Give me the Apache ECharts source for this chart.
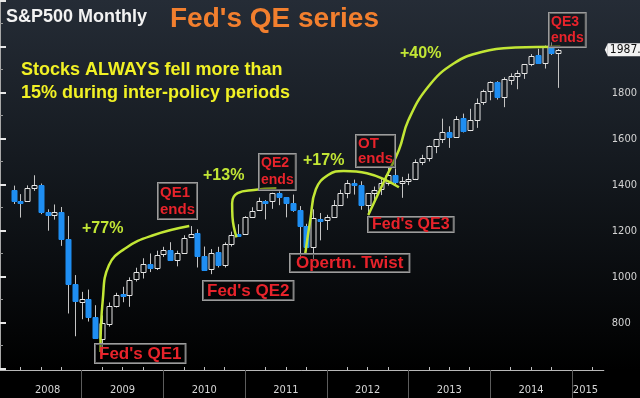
<!DOCTYPE html>
<html>
<head>
<meta charset="utf-8">
<script src="https://cdn.jsdelivr.net/npm/echarts@6/dist/echarts.min.js"></script>
<style>
  html, body { margin: 0; padding: 0; background: #000; }
  #main { width: 640px; height: 398px; }
</style>
</head>
<body>
<div id="main"></div>
<script>
// monthly S&P500 bars, Feb 2008 .. Oct 2014 (x = months since start of 2008, bar drawn at month end)
var firstMonth = 2;
var openV = [1378, 1330, 1327, 1386, 1400, 1282, 1267, 1283, 1164, 968, 889,
  903, 825, 730, 794, 872, 923, 920, 990, 1020, 1055, 1037, 1099,
  1116, 1074, 1105, 1171, 1188, 1088, 1032, 1108, 1050, 1143, 1185, 1186,
  1258, 1289, 1329, 1329, 1365, 1345, 1320, 1292, 1219, 1131, 1251, 1247,
  1258, 1313, 1366, 1408, 1398, 1310, 1362, 1380, 1407, 1440, 1412, 1417,
  1426, 1498, 1515, 1569, 1597, 1631, 1609, 1690, 1636, 1682, 1758, 1806,
  1846, 1783, 1857, 1873, 1885, 1924, 1962, 1930, 2004, 1971];
var closeV = [1330, 1323, 1386, 1400, 1280, 1267, 1283, 1166, 969, 896, 903,
  826, 735, 798, 873, 919, 919, 987, 1021, 1057, 1036, 1096, 1115,
  1074, 1104, 1169, 1187, 1089, 1031, 1102, 1049, 1141, 1183, 1181, 1258,
  1286, 1327, 1326, 1364, 1345, 1321, 1292, 1219, 1131, 1253, 1247, 1258,
  1312, 1366, 1408, 1398, 1310, 1362, 1379, 1407, 1441, 1412, 1416, 1426,
  1498, 1515, 1569, 1598, 1631, 1606, 1686, 1633, 1682, 1757, 1806, 1848,
  1783, 1859, 1872, 1884, 1924, 1960, 1931, 2003, 1972, 1987];
var lowV = [1316, 1257, 1325, 1373, 1272, 1200, 1248, 1134, 840, 741, 815,
  805, 735, 667, 783, 866, 889, 869, 979, 992, 1020, 1029, 1086,
  1071, 1045, 1101, 1170, 1040, 1029, 1011, 1040, 1040, 1131, 1173, 1186,
  1257, 1289, 1249, 1295, 1311, 1258, 1282, 1075, 1114, 1075, 1158, 1203,
  1258, 1312, 1341, 1357, 1291, 1267, 1325, 1355, 1396, 1403, 1343, 1398,
  1426, 1485, 1501, 1537, 1581, 1560, 1605, 1627, 1633, 1647, 1747, 1767,
  1770, 1737, 1834, 1815, 1860, 1915, 1930, 1905, 1964, 1821];
var highV = [1396, 1359, 1397, 1441, 1405, 1293, 1314, 1303, 1264, 1007, 934,
  944, 876, 832, 888, 930, 956, 997, 1039, 1080, 1101, 1113, 1130,
  1150, 1113, 1180, 1220, 1206, 1131, 1120, 1130, 1149, 1196, 1228, 1263,
  1302, 1344, 1333, 1365, 1371, 1346, 1357, 1307, 1230, 1293, 1277, 1269,
  1333, 1378, 1420, 1422, 1415, 1364, 1392, 1426, 1475, 1471, 1434, 1448,
  1510, 1530, 1570, 1598, 1687, 1654, 1698, 1709, 1730, 1775, 1813, 1849,
  1850, 1867, 1884, 1897, 1924, 1968, 1991, 2005, 2019, 1990];

// axis labels
var yearLabels = ['2008', '2009', '2010', '2011', '2012', '2013', '2014', '2015'];
var yearLabelAt = [7, 18, 30, 42, 54, 66, 78, 86];
var yearBreaks = [12, 24, 36, 48, 60, 72, 84];
var priceLabels = [800, 1000, 1200, 1400, 1600, 1800];

// hand drawn annotation curves [month, price]
var qe1Curve = [[14.75, 673], [15.1, 900], [16.0, 1050], [18.5, 1125], [22.5, 1180], [27.8, 1220]];
var qe2Curve = [[34.75, 1171], [34.15, 1260], [34.1, 1320], [34.9, 1363], [37.3, 1377], [40.6, 1384]];
var otCurve = [[44.85, 1102], [45.6, 1250], [46.4, 1380], [48.2, 1442], [50.5, 1460], [53.9, 1450], [58.6, 1389]];
var qe3Curve = [[54.1, 1268], [56.5, 1420], [58.6, 1551], [60.0, 1681], [62.9, 1826], [66.7, 1928], [70.9, 1978], [75.7, 1996], [82.3, 2000]];

var candles = [];
for (var i = 0; i < openV.length; i++) {
  candles.push([firstMonth + i, openV[i], closeV[i], lowV[i], highV[i]]);
}
var lastClose = closeV[closeV.length - 1];

var FONT = '"Liberation Sans", Arial, sans-serif';
var AXISFONT = '"DejaVu Sans Condensed", "Liberation Sans Narrow", sans-serif';
var GREEN = '#c2e635';
var RED = '#e8232b';

function renderCandle(params, api) {
  var x = api.value(0), o = api.value(1), c = api.value(2), l = api.value(3), h = api.value(4);
  var pO = api.coord([x, o]), pC = api.coord([x, c]);
  var pL = api.coord([x, l]), pH = api.coord([x, h]);
  var w = Math.round(api.size([1, 0])[0] * 0.72);
  var cx = Math.round(pO[0]) + 0.5;
  var top = Math.round(Math.min(pO[1], pC[1])) + 0.5;
  var bot = Math.round(Math.max(pO[1], pC[1])) + 0.5;
  if (bot - top < 2) bot = top + 2;
  var up = c >= o;
  return {
    type: 'group',
    children: [
      { type: 'line', shape: { x1: cx, y1: pH[1], x2: cx, y2: top }, style: { stroke: '#c4c4c4', lineWidth: 1 } },
      { type: 'line', shape: { x1: cx, y1: bot, x2: cx, y2: pL[1] }, style: { stroke: '#c4c4c4', lineWidth: 1 } },
      {
        type: 'rect',
        shape: { x: cx - w / 2, y: top, width: w, height: bot - top },
        style: up ? { fill: 'rgba(0,0,0,0.25)', stroke: '#e4e4e4', lineWidth: 1 }
                  : { fill: '#1f8ef2', stroke: '#1f8ef2', lineWidth: 1 }
      }
    ]
  };
}

function curveSeries(pts) {
  return {
    type: 'line', data: pts, smooth: 0.45, showSymbol: false, silent: true,
    lineStyle: { color: GREEN, width: 2.5 }, z: 5
  };
}

function box(text, left, top, size, lh, pad) {
  return {
    type: 'text', left: left, top: top, z: 100,
    style: {
      text: text, font: 'bold ' + size + 'px ' + FONT, fill: RED,
      lineHeight: lh, backgroundColor: 'rgba(0,0,0,0.35)',
      borderColor: '#9c9c9c', borderWidth: 1, padding: pad
    }
  };
}

function plain(text, left, top, size, color) {
  return {
    type: 'text', left: left, top: top, z: 100,
    style: { text: text, font: 'bold ' + size + 'px ' + FONT, fill: color }
  };
}

var chart = echarts.init(document.getElementById('main'));
var option = {
  animation: false,
  backgroundColor: new echarts.graphic.LinearGradient(0, 0, 0, 1, [
    { offset: 0, color: '#252c36' },
    { offset: 0.4, color: '#151a20' },
    { offset: 0.75, color: '#07090b' },
    { offset: 0.93, color: '#000000' },
    { offset: 1, color: '#000000' }
  ]),
  grid: { left: -12, right: 28.3, top: 0, bottom: 28, containLabel: false },
  xAxis: [{
    type: 'value', min: 0, max: 88.7,
    axisLine: { show: true, lineStyle: { color: '#b8b8b8', width: 1 } },
    axisTick: { show: true, customValues: yearBreaks, length: 28, lineStyle: { color: '#5c5c5c' } },
    axisLabel: { show: false },
    splitLine: { show: false }
  }, {
    type: 'value', min: 0, max: 88.7, position: 'bottom', offset: 0,
    axisLine: { show: false },
    axisTick: {
      show: true, inside: true, length: 3, lineStyle: { color: '#bdbdbd' },
      customValues: [3, 6, 9, 15, 18, 21, 27, 30, 33, 39, 42, 45, 51, 54, 57, 63, 66, 69, 75, 78, 81, 87]
    },
    axisLabel: { show: false },
    splitLine: { show: false }
  }, {
    type: 'value', min: 0, max: 88.7, position: 'bottom', offset: 0,
    axisLine: { show: false },
    axisTick: { show: false },
    axisLabel: {
      show: true, customValues: yearLabelAt, margin: 15,
      color: '#d6d6d6', fontSize: 11, fontFamily: AXISFONT,
      formatter: function (v) {
        var k = yearLabelAt.indexOf(Math.round(v));
        return k >= 0 ? yearLabels[k] : '';
      }
    },
    splitLine: { show: false }
  }],
  yAxis: [{
    type: 'value', position: 'right', min: 594.3, max: 2203,
    axisLine: { show: true, lineStyle: { color: '#a8a8a8', width: 1 } },
    axisTick: { show: true, length: 6, customValues: [600, 800, 1000, 1200, 1400, 1600, 1800, 2000, 2200], lineStyle: { color: '#e6e6e6', width: 2 } },
    axisLabel: {
      show: true, customValues: priceLabels, margin: 8, color: '#d4d4d4', fontSize: 11,
      fontFamily: AXISFONT,
      formatter: function (v) { return String(v); }
    },
    splitLine: { show: false }
  }, {
    type: 'value', position: 'right', offset: 0, min: 594.3, max: 2203,
    axisLine: { show: false },
    axisTick: { show: true, length: 3, customValues: [700, 900, 1100, 1300, 1500, 1700, 1900, 2100], lineStyle: { color: '#9a9a9a' } },
    axisLabel: { show: false },
    splitLine: { show: false }
  }],
  series: [{
    type: 'custom', renderItem: renderCandle, data: candles,
    encode: { x: 0, y: [1, 2, 3, 4] }, z: 3
  },
    curveSeries(qe1Curve),
    curveSeries(qe2Curve),
    curveSeries(otCurve),
    curveSeries(qe3Curve)
  ],
  graphic: [
    plain('S&P500 Monthly', 6, 8, 18, '#f2f2f2'),
    plain("Fed's QE series", 170, 5, 28, '#f27f2e'),
    plain('Stocks ALWAYS fell more than', 21, 61, 18, '#f1f125'),
    plain('15% during inter-policy periods', 21, 84, 18, '#f1f125'),
    plain('+77%', 82, 221, 16, GREEN),
    plain('+13%', 203, 168, 16, GREEN),
    plain('+17%', 303, 153, 16, GREEN),
    plain('+40%', 400, 46, 16, GREEN),
    box("Fed's QE1", 94, 343, 17, 18, [1, 4, 0, 4]),
    box('QE1\nends', 157, 182, 15, 17, [1, 2, 1, 2]),
    box("Fed's QE2", 202, 280, 17, 18, [1, 4, 0, 4]),
    box('QE2\nends', 258, 153, 14, 17, [1, 2, 1, 2]),
    box('Opertn. Twist', 289, 253, 17, 18, [0, 6, 0, 6]),
    box('OT\nends', 355, 134, 15, 15, [1, 2, 1, 2]),
    box("Fed's QE3", 367, 216, 16, 15, [0, 4, 0, 4]),
    box('QE3\nends', 548, 12, 14, 16, [1, 2, 1, 2])
  ]
};
chart.setOption(option);

// last price tag on the right axis, placed through the y scale
var axisX = chart.convertToPixel({ xAxisIndex: 0 }, 88.7);
var tagY = chart.convertToPixel({ yAxisIndex: 0 }, lastClose);
chart.setOption({
  graphic: option.graphic.concat([{
    type: 'polygon', z: 110,
    shape: { points: [[axisX + 1, tagY], [axisX + 4, tagY - 6.5], [axisX + 4, tagY + 6.5]] },
    style: { fill: '#f2f2f2' }
  }, {
    type: 'text', z: 110, x: axisX + 4, y: tagY,
    style: {
      text: lastClose + '.', font: '12px ' + AXISFONT, fill: '#111',
      backgroundColor: '#f2f2f2', padding: [1, 3, 0, 2], verticalAlign: 'middle'
    }
  }])
});
</script>
</body>
</html>
